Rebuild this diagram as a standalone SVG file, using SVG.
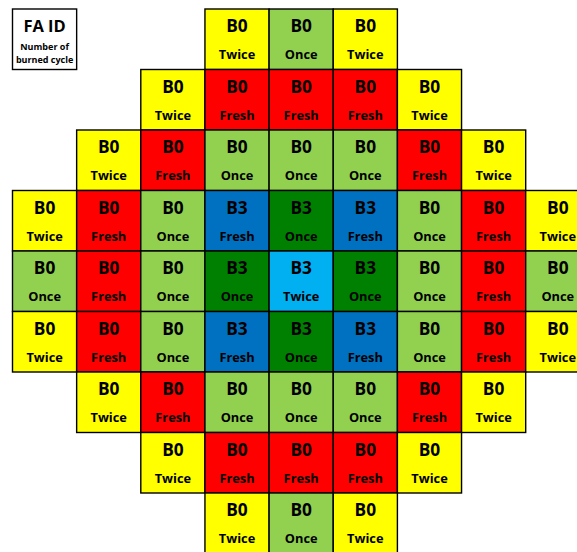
<svg xmlns="http://www.w3.org/2000/svg" width="577" height="552" viewBox="0 0 577 552">
<style>
rect{stroke:#000;stroke-width:1.4}
.Y{fill:#FFFF00}.G{fill:#92D050}.R{fill:#FF0000}.B{fill:#0070C0}.D{fill:#008000}.L{fill:#00B0F0}
text{font-family:"Open Sans","Noto Sans","DejaVu Sans",sans-serif;font-weight:bold;fill:#000;text-anchor:middle}
.id{font-size:17.3px}.c{font-size:12.8px}.s{font-size:9px}
.id{transform:translateY(0.6px)}.c{transform:translateY(1px)}
</style>
<rect x="0" y="0" width="577" height="552" style="fill:#fff;stroke:none"/>
<g id="legend">
<rect x="12.5" y="9" width="64.15" height="60.5" style="fill:#fff"/>
<text x="44.6" y="31.5" style="font-size:16.5px">FA ID</text>
<text class="s" x="44.6" y="50">Number of</text>
<text class="s" x="44.6" y="63">burned cycle</text>
</g>
<g id="cells">
<g id="r0c3"><rect class="Y" x="204.95" y="9" width="64.15" height="60.5"/><text class="id" x="237" y="31.7">B0</text><text class="c" x="237" y="58">Twice</text></g>
<g id="r0c4"><rect class="G" x="269.1" y="9" width="64.15" height="60.5"/><text class="id" x="301.2" y="31.7">B0</text><text class="c" x="301.2" y="58">Once</text></g>
<g id="r0c5"><rect class="Y" x="333.25" y="9" width="64.15" height="60.5"/><text class="id" x="365.3" y="31.7">B0</text><text class="c" x="365.3" y="58">Twice</text></g>

<g id="r1c2"><rect class="Y" x="140.8" y="69.5" width="64.15" height="60.5"/><text class="id" x="172.9" y="92.2">B0</text><text class="c" x="172.9" y="118.5">Twice</text></g>
<g id="r1c3"><rect class="R" x="204.95" y="69.5" width="64.15" height="60.5"/><text class="id" x="237" y="92.2">B0</text><text class="c" x="237" y="118.5">Fresh</text></g>
<g id="r1c4"><rect class="R" x="269.1" y="69.5" width="64.15" height="60.5"/><text class="id" x="301.2" y="92.2">B0</text><text class="c" x="301.2" y="118.5">Fresh</text></g>
<g id="r1c5"><rect class="R" x="333.25" y="69.5" width="64.15" height="60.5"/><text class="id" x="365.3" y="92.2">B0</text><text class="c" x="365.3" y="118.5">Fresh</text></g>
<g id="r1c6"><rect class="Y" x="397.4" y="69.5" width="64.15" height="60.5"/><text class="id" x="429.5" y="92.2">B0</text><text class="c" x="429.5" y="118.5">Twice</text></g>

<g id="r2c1"><rect class="Y" x="76.65" y="130" width="64.15" height="60.5"/><text class="id" x="108.7" y="152.7">B0</text><text class="c" x="108.7" y="179">Twice</text></g>
<g id="r2c2"><rect class="R" x="140.8" y="130" width="64.15" height="60.5"/><text class="id" x="172.9" y="152.7">B0</text><text class="c" x="172.9" y="179">Fresh</text></g>
<g id="r2c3"><rect class="G" x="204.95" y="130" width="64.15" height="60.5"/><text class="id" x="237" y="152.7">B0</text><text class="c" x="237" y="179">Once</text></g>
<g id="r2c4"><rect class="G" x="269.1" y="130" width="64.15" height="60.5"/><text class="id" x="301.2" y="152.7">B0</text><text class="c" x="301.2" y="179">Once</text></g>
<g id="r2c5"><rect class="G" x="333.25" y="130" width="64.15" height="60.5"/><text class="id" x="365.3" y="152.7">B0</text><text class="c" x="365.3" y="179">Once</text></g>
<g id="r2c6"><rect class="R" x="397.4" y="130" width="64.15" height="60.5"/><text class="id" x="429.5" y="152.7">B0</text><text class="c" x="429.5" y="179">Fresh</text></g>
<g id="r2c7"><rect class="Y" x="461.55" y="130" width="64.15" height="60.5"/><text class="id" x="493.6" y="152.7">B0</text><text class="c" x="493.6" y="179">Twice</text></g>

<g id="r3c0"><rect class="Y" x="12.5" y="190.5" width="64.15" height="60.5"/><text class="id" x="44.6" y="213.2">B0</text><text class="c" x="44.6" y="239.5">Twice</text></g>
<g id="r3c1"><rect class="R" x="76.65" y="190.5" width="64.15" height="60.5"/><text class="id" x="108.7" y="213.2">B0</text><text class="c" x="108.7" y="239.5">Fresh</text></g>
<g id="r3c2"><rect class="G" x="140.8" y="190.5" width="64.15" height="60.5"/><text class="id" x="172.9" y="213.2">B0</text><text class="c" x="172.9" y="239.5">Once</text></g>
<g id="r3c3"><rect class="B" x="204.95" y="190.5" width="64.15" height="60.5"/><text class="id" x="237" y="213.2">B3</text><text class="c" x="237" y="239.5">Fresh</text></g>
<g id="r3c4"><rect class="D" x="269.1" y="190.5" width="64.15" height="60.5"/><text class="id" x="301.2" y="213.2">B3</text><text class="c" x="301.2" y="239.5">Once</text></g>
<g id="r3c5"><rect class="B" x="333.25" y="190.5" width="64.15" height="60.5"/><text class="id" x="365.3" y="213.2">B3</text><text class="c" x="365.3" y="239.5">Fresh</text></g>
<g id="r3c6"><rect class="G" x="397.4" y="190.5" width="64.15" height="60.5"/><text class="id" x="429.5" y="213.2">B0</text><text class="c" x="429.5" y="239.5">Once</text></g>
<g id="r3c7"><rect class="R" x="461.55" y="190.5" width="64.15" height="60.5"/><text class="id" x="493.6" y="213.2">B0</text><text class="c" x="493.6" y="239.5">Fresh</text></g>
<g id="r3c8"><rect class="Y" x="525.7" y="190.5" width="64.15" height="60.5"/><text class="id" x="557.8" y="213.2">B0</text><text class="c" x="557.8" y="239.5">Twice</text></g>

<g id="r4c0"><rect class="G" x="12.5" y="251" width="64.15" height="60.5"/><text class="id" x="44.6" y="273.7">B0</text><text class="c" x="44.6" y="300">Once</text></g>
<g id="r4c1"><rect class="R" x="76.65" y="251" width="64.15" height="60.5"/><text class="id" x="108.7" y="273.7">B0</text><text class="c" x="108.7" y="300">Fresh</text></g>
<g id="r4c2"><rect class="G" x="140.8" y="251" width="64.15" height="60.5"/><text class="id" x="172.9" y="273.7">B0</text><text class="c" x="172.9" y="300">Once</text></g>
<g id="r4c3"><rect class="D" x="204.95" y="251" width="64.15" height="60.5"/><text class="id" x="237" y="273.7">B3</text><text class="c" x="237" y="300">Once</text></g>
<g id="r4c4"><rect class="L" x="269.1" y="251" width="64.15" height="60.5"/><text class="id" x="301.2" y="273.7">B3</text><text class="c" x="301.2" y="300">Twice</text></g>
<g id="r4c5"><rect class="D" x="333.25" y="251" width="64.15" height="60.5"/><text class="id" x="365.3" y="273.7">B3</text><text class="c" x="365.3" y="300">Once</text></g>
<g id="r4c6"><rect class="G" x="397.4" y="251" width="64.15" height="60.5"/><text class="id" x="429.5" y="273.7">B0</text><text class="c" x="429.5" y="300">Once</text></g>
<g id="r4c7"><rect class="R" x="461.55" y="251" width="64.15" height="60.5"/><text class="id" x="493.6" y="273.7">B0</text><text class="c" x="493.6" y="300">Fresh</text></g>
<g id="r4c8"><rect class="G" x="525.7" y="251" width="64.15" height="60.5"/><text class="id" x="557.8" y="273.7">B0</text><text class="c" x="557.8" y="300">Once</text></g>

<g id="r5c0"><rect class="Y" x="12.5" y="311.5" width="64.15" height="60.5"/><text class="id" x="44.6" y="334.2">B0</text><text class="c" x="44.6" y="360.5">Twice</text></g>
<g id="r5c1"><rect class="R" x="76.65" y="311.5" width="64.15" height="60.5"/><text class="id" x="108.7" y="334.2">B0</text><text class="c" x="108.7" y="360.5">Fresh</text></g>
<g id="r5c2"><rect class="G" x="140.8" y="311.5" width="64.15" height="60.5"/><text class="id" x="172.9" y="334.2">B0</text><text class="c" x="172.9" y="360.5">Once</text></g>
<g id="r5c3"><rect class="B" x="204.95" y="311.5" width="64.15" height="60.5"/><text class="id" x="237" y="334.2">B3</text><text class="c" x="237" y="360.5">Fresh</text></g>
<g id="r5c4"><rect class="D" x="269.1" y="311.5" width="64.15" height="60.5"/><text class="id" x="301.2" y="334.2">B3</text><text class="c" x="301.2" y="360.5">Once</text></g>
<g id="r5c5"><rect class="B" x="333.25" y="311.5" width="64.15" height="60.5"/><text class="id" x="365.3" y="334.2">B3</text><text class="c" x="365.3" y="360.5">Fresh</text></g>
<g id="r5c6"><rect class="G" x="397.4" y="311.5" width="64.15" height="60.5"/><text class="id" x="429.5" y="334.2">B0</text><text class="c" x="429.5" y="360.5">Once</text></g>
<g id="r5c7"><rect class="R" x="461.55" y="311.5" width="64.15" height="60.5"/><text class="id" x="493.6" y="334.2">B0</text><text class="c" x="493.6" y="360.5">Fresh</text></g>
<g id="r5c8"><rect class="Y" x="525.7" y="311.5" width="64.15" height="60.5"/><text class="id" x="557.8" y="334.2">B0</text><text class="c" x="557.8" y="360.5">Twice</text></g>

<g id="r6c1"><rect class="Y" x="76.65" y="372" width="64.15" height="60.5"/><text class="id" x="108.7" y="394.7">B0</text><text class="c" x="108.7" y="421">Twice</text></g>
<g id="r6c2"><rect class="R" x="140.8" y="372" width="64.15" height="60.5"/><text class="id" x="172.9" y="394.7">B0</text><text class="c" x="172.9" y="421">Fresh</text></g>
<g id="r6c3"><rect class="G" x="204.95" y="372" width="64.15" height="60.5"/><text class="id" x="237" y="394.7">B0</text><text class="c" x="237" y="421">Once</text></g>
<g id="r6c4"><rect class="G" x="269.1" y="372" width="64.15" height="60.5"/><text class="id" x="301.2" y="394.7">B0</text><text class="c" x="301.2" y="421">Once</text></g>
<g id="r6c5"><rect class="G" x="333.25" y="372" width="64.15" height="60.5"/><text class="id" x="365.3" y="394.7">B0</text><text class="c" x="365.3" y="421">Once</text></g>
<g id="r6c6"><rect class="R" x="397.4" y="372" width="64.15" height="60.5"/><text class="id" x="429.5" y="394.7">B0</text><text class="c" x="429.5" y="421">Fresh</text></g>
<g id="r6c7"><rect class="Y" x="461.55" y="372" width="64.15" height="60.5"/><text class="id" x="493.6" y="394.7">B0</text><text class="c" x="493.6" y="421">Twice</text></g>

<g id="r7c2"><rect class="Y" x="140.8" y="432.5" width="64.15" height="60.5"/><text class="id" x="172.9" y="455.2">B0</text><text class="c" x="172.9" y="481.5">Twice</text></g>
<g id="r7c3"><rect class="R" x="204.95" y="432.5" width="64.15" height="60.5"/><text class="id" x="237" y="455.2">B0</text><text class="c" x="237" y="481.5">Fresh</text></g>
<g id="r7c4"><rect class="R" x="269.1" y="432.5" width="64.15" height="60.5"/><text class="id" x="301.2" y="455.2">B0</text><text class="c" x="301.2" y="481.5">Fresh</text></g>
<g id="r7c5"><rect class="R" x="333.25" y="432.5" width="64.15" height="60.5"/><text class="id" x="365.3" y="455.2">B0</text><text class="c" x="365.3" y="481.5">Fresh</text></g>
<g id="r7c6"><rect class="Y" x="397.4" y="432.5" width="64.15" height="60.5"/><text class="id" x="429.5" y="455.2">B0</text><text class="c" x="429.5" y="481.5">Twice</text></g>

<g id="r8c3"><rect class="Y" x="204.95" y="493" width="64.15" height="60.5"/><text class="id" x="237" y="515.7">B0</text><text class="c" x="237" y="542">Twice</text></g>
<g id="r8c4"><rect class="G" x="269.1" y="493" width="64.15" height="60.5"/><text class="id" x="301.2" y="515.7">B0</text><text class="c" x="301.2" y="542">Once</text></g>
<g id="r8c5"><rect class="Y" x="333.25" y="493" width="64.15" height="60.5"/><text class="id" x="365.3" y="515.7">B0</text><text class="c" x="365.3" y="542">Twice</text></g>
</g>
<g id="connectors"/>
</svg>
